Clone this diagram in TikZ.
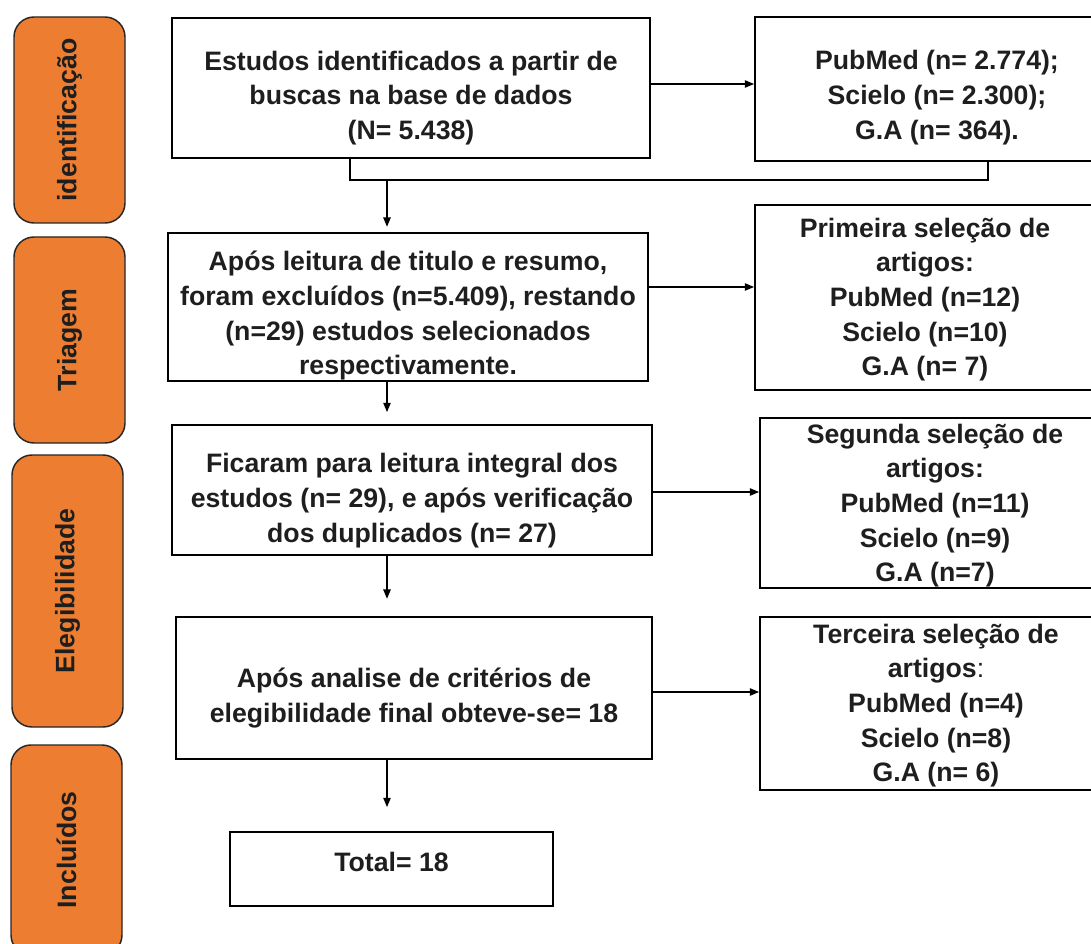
\documentclass[tikz,border=0pt]{standalone}
\usepackage{fontspec}
\setmainfont{Liberation Sans}
\usetikzlibrary{arrows.meta}
\definecolor{orng}{HTML}{ED7D31}
\definecolor{ink}{HTML}{1E1E1E}
\begin{document}
\begin{tikzpicture}[x=0.75pt,y=-0.75pt,
  every node/.style={font=\fontsize{20pt}{26pt}\selectfont\bfseries, text=ink},
  rect/.style args={#1/#2/#3/#4}{at={({(#1+#3)/2},{(#2+#4)/2})}, anchor=center,
    minimum width={(#3-#1)*0.75pt}, minimum height={(#4-#2)*0.75pt}},
  box/.style={draw=black, line width=1.3pt, inner sep=0pt},
  lbl/.style={align=center, inner sep=0pt},
  side/.style={draw=black!85, fill=orng, rounded corners=15pt, line width=1.1pt, inner sep=0pt},
  arr/.style={line width=1.1pt, -{Triangle[length=7pt,width=5.5pt]}},
  conn/.style={line width=1.1pt}]
\useasboundingbox (0,0) rectangle (1091,944);
\clip (0,0) rectangle (1091,944);

% side labels
\node[side, rect=14/17/125/223] (s1) {\rotatebox{90}{identificação}};
\node[side, rect=14/237/125/443] (s2) {\rotatebox{90}{Triagem}};
\node[side, rect=12/455/123/727] (s3) {\rotatebox{90}{Elegibilidade}};
\node[side, rect=11/745/122/955] (s4) {\rotatebox{90}{Incluídos}};

% main column boxes
\node[box, rect=172/18/650/158] (A) {};
\node[box, rect=168/233/648/381] (B) {};
\node[box, rect=172/425/652/555] (C) {};
\node[box, rect=176/617/652/759] (D) {};
\node[box, rect=230/832/553/906] (E) {};

% right column boxes
\node[box, rect=755/17/1119/161] (R1) {};
\node[box, rect=755/205/1095/390] (R2) {};
\node[box, rect=760/418/1110/588] (R3) {};
\node[box, rect=760/617/1112/790] (R4) {};

% texts
\node[lbl] (At) at ([yshift=-7.5pt]A.center) {Estudos identificados a partir de\\buscas na base de dados\\(N= 5.438)};
\node[lbl] (Bt) at ([yshift=-6.5pt]B.center) {Após leitura de titulo e resumo,\\foram excluídos (n=5.409), restando\\(n=29) estudos selecionados\\respectivamente.};
\node[lbl] (Ct) at ([yshift=-8pt]C.center) {Ficaram para leitura integral dos\\estudos (n= 29), e após verificação\\dos duplicados (n= 27)};
\node[lbl] (Dt) at ([yshift=-7.5pt]D.center) {Após analise de critérios de\\elegibilidade final obteve-se= 18};
\node[lbl] (Et) at ([yshift=5pt]E.center) {Total= 18};
\node[lbl] (R1t) at ([yshift=-6.5pt]R1.center) {PubMed (n= 2.774);\\Scielo (n= 2.300);\\G.A (n= 364).};
\node[lbl] (R2t) at ([yshift=-1.5pt]R2.center) {Primeira seleção de\\artigos:\\PubMed (n=12)\\Scielo (n=10)\\G.A (n= 7)};
\node[lbl] (R3t) at ([yshift=-2pt]R3.center) {Segunda seleção de\\artigos:\\PubMed (n=11)\\Scielo (n=9)\\G.A (n=7)};
\node[lbl] (R4t) at ([yshift=-1.5pt]R4.center) {Terceira seleção de\\artigos{\mdseries:}\\PubMed (n=4)\\Scielo (n=8)\\G.A (n= 6)};

% helper coordinates
\coordinate (ax) at (387,0);
\coordinate (bl) at (350,180);
\coordinate (br) at (988,180);
\coordinate (y1) at (0,84);
\coordinate (y2) at (0,287);
\coordinate (y3) at (0,492);
\coordinate (y4) at (0,692);

% connectors
\draw[conn] (A.south -| bl) -- (bl) -- (br) -- (R1.south -| br);
\draw[arr, shorten >=4pt] (ax |- bl) -- (B.north -| ax);
\draw[arr, shorten >=9pt] (B.south -| ax) -- (C.north -| ax);
\draw[arr, shorten >=13pt] (C.south -| ax) -- (D.north -| ax);
\draw[arr, shorten >=18pt] (D.south -| ax) -- (E.north -| ax);

\draw[arr] (A.east |- y1) -- (R1.west |- y1);
\draw[arr] (B.east |- y2) -- (R2.west |- y2);
\draw[arr] (C.east |- y3) -- (R3.west |- y3);
\draw[arr] (D.east |- y4) -- (R4.west |- y4);
\end{tikzpicture}
\end{document}
